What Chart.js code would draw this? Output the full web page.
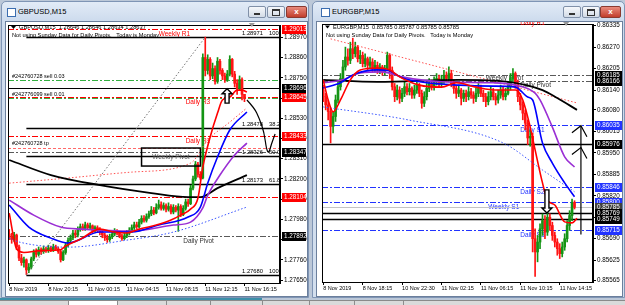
<!DOCTYPE html>
<html>
<head>
<meta charset="utf-8">
<script src="https://cdn.jsdelivr.net/npm/chart.js@4.4.1/dist/chart.umd.min.js"></script>
<style>
body{margin:0;width:625px;height:305px;overflow:hidden;background:#bcc8d8;position:relative;font-family:"Liberation Sans",Arial,sans-serif}
.win{position:absolute;top:1px;height:297px;box-sizing:border-box;background:linear-gradient(#e2ebf7,#cddbed 19px,#d3dfee);border:1px solid #7f95b5;border-radius:5px 5px 0 0}
.ttl{position:absolute;top:5px;font-size:7.5px;color:#000}
.ico{position:absolute;top:6px;width:7px;height:7px;border:1px solid #3b6db0;background:#fff}
.btn{position:absolute;top:4px;height:10px;border:1px solid #8090a8;border-radius:2px;background:linear-gradient(#f6f8fb,#d3dbe6)}
.btn.x{background:linear-gradient(#e98b7d,#c23e2c);border-color:#8a3a30;color:#fff;font-size:8px;font-weight:bold;text-align:center;line-height:10px}
.mn{position:absolute;left:5px;top:6px;width:6px;height:2px;background:#333}
.mx{position:absolute;left:4px;top:2px;width:6px;height:4px;border:1px solid #333;border-top-width:2px}
.client{position:absolute;background:#fff;border:1px solid #6b7f9c}
canvas{display:block}
.tab{position:absolute;top:0;height:5px;border-left:1px solid #8c8c8c}
</style>
</head>
<body>
<div class="win" style="left:1px;width:308px">
  <div class="ico" style="left:5px"></div>
  <div class="ttl" style="left:16px">GBPUSD,M15</div>
  <div class="btn" style="left:246px;width:16px"><b class="mn"></b></div>
  <div class="btn" style="left:265px;width:16px"><b class="mx"></b></div>
  <div class="btn x" style="left:284px;width:19px">x</div>
  <div class="client" style="left:3px;top:19px;width:301px;height:274px"><canvas id="gbp" width="301" height="274"></canvas></div>
</div>
<div class="win" style="left:312px;width:313px">
  <div class="ico" style="left:8px"></div>
  <div class="ttl" style="left:19px">EURGBP,M15</div>
  <div class="btn" style="left:250px;width:16px"><b class="mn"></b></div>
  <div class="btn" style="left:269px;width:16px"><b class="mx"></b></div>
  <div class="btn x" style="left:287px;width:19px">x</div>
  <div class="client" style="left:3px;top:19px;width:305px;height:274px"><canvas id="eur" width="305" height="274"></canvas></div>
</div>
<div style="position:absolute;left:0;top:298px;width:262px;height:2px;background:#3c8fa9"></div>
<div style="position:absolute;left:0;top:300px;width:625px;height:5px;background:#dadada;border-top:1px solid #8a8a8a">
  <div class="tab" style="left:68px;width:49px;background:#fff"></div>
  <div class="tab" style="left:117px;width:49px"></div>
  <div class="tab" style="left:166px;width:44px"></div>
  <div class="tab" style="left:210px;width:52px"></div>
  <div class="tab" style="left:262px;width:47px"></div>
  <div class="tab" style="left:309px;width:45px"></div>
  <div class="tab" style="left:354px;width:49px"></div>
  <div class="tab" style="left:403px;width:1px"></div>
</div>
<script>
// ---------- GBPUSD M15 ----------
const gbpTimeLabels = ['8 Nov 2019', '8 Nov 20:15', '11 Nov 00:15', '11 Nov 04:15', '11 Nov 08:15', '11 Nov 12:15', '11 Nov 16:15'];
const gbpPriceTicks = [1.27650, 1.27760, 1.27870, 1.27980, 1.28090, 1.28200, 1.28310, 1.28420, 1.28530, 1.28640, 1.28750, 1.28860, 1.28970];
const gbpFirstOpen = 1.27900;
const gbpClose = [
  1.27885, 1.27870, 1.27895, 1.27830, 1.27770, 1.27745, 1.27760, 1.27705, 1.27720, 1.27765,
  1.27800, 1.27790, 1.27815, 1.27805, 1.27820, 1.27810, 1.27825, 1.27815, 1.27830, 1.27820,
  1.27805, 1.27760, 1.27800, 1.27840, 1.27865, 1.27880, 1.27905, 1.27895, 1.27925, 1.27940,
  1.27930, 1.27950, 1.27935, 1.27945, 1.27920, 1.27935, 1.27925, 1.27910, 1.27895, 1.27880,
  1.27870, 1.27885, 1.27900, 1.27915, 1.27905, 1.27890, 1.27875, 1.27890, 1.27905, 1.27920,
  1.27935, 1.27950, 1.27940, 1.27965, 1.27985, 1.27975, 1.27995, 1.28010, 1.28030, 1.28015,
  1.28045, 1.28060, 1.28040, 1.28055, 1.28035, 1.28050, 1.28020, 1.28045, 1.28030, 1.28050,
  1.28005, 1.28040, 1.28075, 1.28065, 1.28150, 1.28200, 1.28280, 1.28225, 1.28205, 1.28860,
  1.28790, 1.28850, 1.28760, 1.28800, 1.28730, 1.28840, 1.28790, 1.28760, 1.28740, 1.28770,
  1.28850, 1.28770, 1.28720, 1.28690, 1.28740, 1.28660, 1.28637];
const gbpHigh = [
  1.27925, 1.27905, 1.27910, 1.27900, 1.27840, 1.27790, 1.27775, 1.27765, 1.27740, 1.27775,
  1.27815, 1.27820, 1.27830, 1.27825, 1.27835, 1.27830, 1.27840, 1.27835, 1.27845, 1.27840,
  1.27830, 1.27815, 1.27810, 1.27850, 1.27880, 1.27895, 1.27920, 1.27920, 1.27940, 1.27955,
  1.27955, 1.27965, 1.27960, 1.27960, 1.27950, 1.27945, 1.27945, 1.27935, 1.27920, 1.27905,
  1.27895, 1.27900, 1.27915, 1.27930, 1.27925, 1.27915, 1.27900, 1.27905, 1.27920, 1.27935,
  1.27950, 1.27965, 1.27965, 1.27980, 1.28000, 1.28000, 1.28010, 1.28025, 1.28050, 1.28045,
  1.28065, 1.28085, 1.28075, 1.28070, 1.28065, 1.28070, 1.28060, 1.28060, 1.28055, 1.28065,
  1.28060, 1.28055, 1.28090, 1.28090, 1.28165, 1.28215, 1.28295, 1.28290, 1.28240, 1.28880,
  1.28971, 1.28875, 1.28860, 1.28830, 1.28815, 1.28860, 1.28850, 1.28800, 1.28775, 1.28790,
  1.28870, 1.28855, 1.28785, 1.28740, 1.28760, 1.28750, 1.28660];
const gbpLow = [
  1.27870, 1.27850, 1.27860, 1.27815, 1.27755, 1.27730, 1.27720, 1.27680, 1.27690, 1.27710,
  1.27755, 1.27775, 1.27780, 1.27790, 1.27795, 1.27800, 1.27800, 1.27805, 1.27805, 1.27810,
  1.27795, 1.27748, 1.27755, 1.27790, 1.27830, 1.27855, 1.27870, 1.27880, 1.27885, 1.27915,
  1.27920, 1.27920, 1.27925, 1.27925, 1.27905, 1.27910, 1.27910, 1.27895, 1.27880, 1.27865,
  1.27855, 1.27860, 1.27875, 1.27890, 1.27895, 1.27880, 1.27865, 1.27870, 1.27880, 1.27895,
  1.27910, 1.27925, 1.27930, 1.27935, 1.27955, 1.27965, 1.27965, 1.27985, 1.28000, 1.28005,
  1.28010, 1.28035, 1.28030, 1.28030, 1.28020, 1.28025, 1.28010, 1.28010, 1.28020, 1.27915,
  1.27995, 1.28000, 1.28030, 1.28050, 1.28060, 1.28140, 1.28190, 1.28210, 1.28195, 1.28200,
  1.28760, 1.28770, 1.28740, 1.28745, 1.28715, 1.28720, 1.28770, 1.28740, 1.28725, 1.28730,
  1.28760, 1.28755, 1.28700, 1.28660, 1.28680, 1.28630, 1.28620];
// moving averages as [bar, price]
const gbpMaFast = [[0, 1.28014], [3, 1.27820], [6, 1.27800], [13, 1.27810], [21, 1.27815], [23, 1.27835], [29, 1.27872], [37, 1.27927], [43, 1.27911], [48, 1.27906], [53, 1.27927], [60, 1.27949], [66, 1.27976], [70, 1.28003], [74, 1.28036], [77, 1.28095], [79, 1.28264], [82, 1.28428], [85, 1.28558], [87, 1.28629], [90, 1.28645], [93, 1.28683], [95, 1.28683], [97, 1.28672]];
const gbpMaMid = [[0, 1.28058], [8, 1.27938], [17, 1.27878], [24, 1.27851], [37, 1.27911], [50, 1.27911], [61, 1.27949], [73, 1.27993], [78, 1.28047], [81, 1.28177], [85, 1.28319], [90, 1.28466], [97, 1.28564]];
const gbpMaSlow = [[0, 1.28085], [10, 1.28003], [21, 1.27938], [30, 1.27927], [50, 1.27916], [67, 1.27949], [74, 1.27965], [79, 1.28042], [81, 1.28110], [86, 1.28221], [92, 1.28330], [97, 1.28395]];
const gbpMaLong = [[0, 1.28303], [17, 1.28221], [37, 1.28166], [58, 1.28123], [73, 1.28101], [78, 1.28101], [85, 1.28150], [97, 1.28221]];
const gbpBandHigh = [[0, 1.28177], [24, 1.28205], [50, 1.28237], [74, 1.28286], [81, 1.28411], [90, 1.28509], [97, 1.28586]];
const gbpBandLow = [[0, 1.27878], [4, 1.27857], [24, 1.27829], [48, 1.27867], [67, 1.27911], [97, 1.28047]];
const gbpFibTrend = [[7, 1.27680], [80, 1.28971]];
const gbpLevels = [1.29013, 1.28738, 1.28696, 1.28645, 1.28640, 1.28433, 1.28368, 1.28347, 1.28104, 1.27892];
const gbpLevelNames = ['Weekly R1', '#242760728 sell 0.03', '', 'Daily R3', '#242776099 sell 0.01', 'Daily R1', '#242760728 tp', '', '', 'Daily Pivot'];
const gbpAxisMarks = [1.29013, 1.28696, 1.28645, 1.28433, 1.28347, 1.28104, 1.27892];
const gbpFibLevels = [1.28971, 1.28478, 1.28326, 1.28173, 1.27680];
const gbpFibNames = ['100.0', '38.2', '50.0', '61.8', '100.0'];
const gbpHeader = 'GBPUSD,M15  1.28646 1.28646 1.28634 1.28637';

// ---------- EURGBP M15 ----------
const eurTimeLabels = ['8 Nov 2019', '8 Nov 18:15', '10 Nov 22:30', '11 Nov 02:15', '11 Nov 06:15', '11 Nov 10:15', '11 Nov 14:15'];
const eurPriceTicks = [0.85565, 0.85625, 0.85690, 0.85755, 0.85820, 0.85885, 0.85950, 0.86015, 0.86080, 0.86140, 0.86205, 0.86270, 0.86335];
const eurFirstOpen = 0.86140;
const eurClose = [
  0.86120, 0.86095, 0.86075, 0.86030, 0.86060, 0.86110, 0.86150, 0.86175, 0.86210, 0.86240,
  0.86230, 0.86265, 0.86250, 0.86270, 0.86235, 0.86245, 0.86220, 0.86235, 0.86215, 0.86225,
  0.86205, 0.86215, 0.86200, 0.86210, 0.86195, 0.86205, 0.86245, 0.86200, 0.86150, 0.86120,
  0.86140, 0.86115, 0.86130, 0.86150, 0.86135, 0.86145, 0.86125, 0.86140, 0.86155, 0.86130,
  0.86100, 0.86120, 0.86145, 0.86160, 0.86150, 0.86165, 0.86175, 0.86160, 0.86170, 0.86185,
  0.86175, 0.86190, 0.86160, 0.86145, 0.86130, 0.86140, 0.86115, 0.86130, 0.86120, 0.86135,
  0.86125, 0.86115, 0.86130, 0.86145, 0.86130, 0.86120, 0.86105, 0.86120, 0.86135, 0.86120,
  0.86110, 0.86125, 0.86140, 0.86120, 0.86130, 0.86150, 0.86175, 0.86190, 0.86160, 0.86120,
  0.86095, 0.86070, 0.86040, 0.85995, 0.86000, 0.85690, 0.85650, 0.85680, 0.85720, 0.85745,
  0.85710, 0.85755, 0.85730, 0.85700, 0.85680, 0.85660, 0.85645, 0.85665, 0.85690, 0.85730,
  0.85760, 0.85800, 0.85785];
const eurHigh = [
  0.86155, 0.86130, 0.86110, 0.86085, 0.86075, 0.86125, 0.86165, 0.86190, 0.86230, 0.86270,
  0.86265, 0.86285, 0.86297, 0.86285, 0.86275, 0.86260, 0.86255, 0.86250, 0.86240, 0.86240,
  0.86235, 0.86230, 0.86225, 0.86220, 0.86215, 0.86215, 0.86255, 0.86250, 0.86210, 0.86160,
  0.86155, 0.86150, 0.86145, 0.86165, 0.86160, 0.86160, 0.86150, 0.86155, 0.86170, 0.86160,
  0.86140, 0.86135, 0.86160, 0.86175, 0.86170, 0.86180, 0.86190, 0.86185, 0.86185, 0.86200,
  0.86195, 0.86210, 0.86200, 0.86170, 0.86155, 0.86155, 0.86145, 0.86140, 0.86140, 0.86150,
  0.86145, 0.86135, 0.86145, 0.86160, 0.86155, 0.86140, 0.86130, 0.86135, 0.86150, 0.86145,
  0.86130, 0.86140, 0.86155, 0.86150, 0.86145, 0.86165, 0.86190, 0.86205, 0.86195, 0.86170,
  0.86130, 0.86105, 0.86080, 0.86050, 0.86020, 0.86010, 0.85720, 0.85700, 0.85735, 0.85765,
  0.85760, 0.85770, 0.85765, 0.85740, 0.85710, 0.85690, 0.85675, 0.85680, 0.85705, 0.85745,
  0.85775, 0.85810, 0.85805];
const eurLow = [
  0.86105, 0.86080, 0.86050, 0.85980, 0.86010, 0.86045, 0.86100, 0.86140, 0.86165, 0.86200,
  0.86215, 0.86220, 0.86235, 0.86240, 0.86225, 0.86220, 0.86210, 0.86210, 0.86200, 0.86205,
  0.86195, 0.86195, 0.86190, 0.86190, 0.86185, 0.86185, 0.86200, 0.86175, 0.86140, 0.86105,
  0.86110, 0.86100, 0.86105, 0.86120, 0.86125, 0.86125, 0.86115, 0.86115, 0.86130, 0.86120,
  0.86085, 0.86090, 0.86110, 0.86135, 0.86140, 0.86140, 0.86155, 0.86150, 0.86150, 0.86160,
  0.86165, 0.86165, 0.86150, 0.86130, 0.86115, 0.86120, 0.86095, 0.86105, 0.86105, 0.86110,
  0.86115, 0.86100, 0.86105, 0.86120, 0.86120, 0.86105, 0.86090, 0.86095, 0.86110, 0.86110,
  0.86095, 0.86100, 0.86115, 0.86110, 0.86110, 0.86125, 0.86140, 0.86165, 0.86145, 0.86105,
  0.86080, 0.86050, 0.86020, 0.85975, 0.85970, 0.85650, 0.85576, 0.85620, 0.85660, 0.85700,
  0.85690, 0.85700, 0.85715, 0.85685, 0.85665, 0.85640, 0.85630, 0.85635, 0.85655, 0.85680,
  0.85715, 0.85745, 0.85780];
const eurMaFast = [[0, 0.86171], [2, 0.86110], [4, 0.86074], [7, 0.86110], [11, 0.86171], [15, 0.86201], [22, 0.86207], [27, 0.86201], [31, 0.86180], [39, 0.86155], [48, 0.86149], [54, 0.86162], [62, 0.86149], [70, 0.86140], [78, 0.86140], [81, 0.86110], [84, 0.86028], [86, 0.85959], [89, 0.85859], [91, 0.85807], [94, 0.85792], [98, 0.85741], [101, 0.85738], [103, 0.85752]];
const eurMaMid = [[0, 0.86146], [7, 0.86162], [12, 0.86186], [22, 0.86201], [27, 0.86198], [32, 0.86177], [42, 0.86162], [55, 0.86155], [69, 0.86152], [78, 0.86149], [83, 0.86119], [85, 0.86110], [89, 0.85980], [93, 0.85919], [98, 0.85859], [102, 0.85817]];
const eurMaSlow = [[0, 0.86162], [8, 0.86171], [15, 0.86192], [24, 0.86195], [32, 0.86180], [48, 0.86165], [69, 0.86162], [78, 0.86155], [86, 0.86131], [88, 0.86110], [93, 0.86028], [98, 0.85938], [102, 0.85907]];
const eurMaLong = [[0, 0.86171], [22, 0.86165], [55, 0.86171], [75, 0.86165], [89, 0.86140], [95, 0.86116], [103, 0.86080]];
const eurTrendHigh = [[3, 0.86295], [103, 0.86101]];
const eurBandLow = [[0, 0.86089], [35, 0.86049], [73, 0.85980], [89, 0.85898], [102, 0.85832]];
const eurLevels = [0.86185, 0.86166, 0.86035, 0.85976, 0.85846, 0.85800, 0.85785, 0.85769, 0.85749, 0.85715];
const eurLevelNames = ['Weekly Pivot', 'Daily Pivot', 'Daily S1', '', 'Daily S2', 'Weekly S1', '', '', '', 'Daily S3'];
const eurAxisMarks = [0.86185, 0.86166, 0.86035, 0.85976, 0.85846, 0.85800, 0.85785, 0.85769, 0.85749, 0.85715];
const eurHeader = 'EURGBP,M15  0.85785 0.85787 0.85785 0.85785';
const notice = 'Not using Sunday Data for Daily Pivots.   Today is Monday';

// ---------- styles ----------
const FONT = '"Liberation Sans", Arial, sans-serif';
const UP = '#149414', DN = '#ff1414';
const RED = '#ff0000', GRN = '#33b040', BLK = '#000000', GRY = '#5a5a5a', BLU = '#2233ff';
const DD = [6, 2, 2, 2];
const gbpLevelStyle = [
  {c: RED, d: DD, tx: RED, at: 61, dy: 5},
  {c: GRN, d: DD, tx: BLK, dy: -4},
  {c: BLK, d: [], w: 1.2},
  {c: RED, d: DD, tx: RED, at: 72, dy: 5},
  {c: GRN, d: DD, tx: BLK, dy: -4},
  {c: RED, d: DD, tx: RED, at: 72, dy: 5},
  {c: '#ff6a6a', d: [3, 2], tx: BLK, dy: -5},
  {c: GRY, d: DD},
  {c: RED, d: DD},
  {c: GRY, d: DD, tx: '#333', at: 71, dy: 5}
];
const gbpAxisColors = [RED, BLK, RED, RED, BLK, RED, BLK];
const eurLevelStyle = [
  {c: GRY, d: DD, tx: '#333', at: 66, dy: 3},
  {c: GRY, d: DD, tx: '#333', at: 80, dy: 4},
  {c: BLU, d: DD, tx: BLU, at: 80, dy: 5},
  {c: BLK, d: [], w: 1.3},
  {c: BLU, d: DD, tx: BLU, at: 80, dy: 5},
  {c: BLU, d: DD, tx: BLU, at: 67, dy: 5},
  {c: '#c4c4c4', d: []},
  {c: BLK, d: [], w: 1.3},
  {c: BLK, d: [], w: 1.3},
  {c: BLU, d: DD, tx: BLU, at: 80, dy: 5}
];
const eurAxisColors = [BLK, BLK, BLU, BLK, BLU, BLU, '#404040', BLK, BLK, BLU];

function txt(ctx, s, px, py, color, align, size) {
  ctx.font = (size || 6) + 'px ' + FONT;
  ctx.fillStyle = color;
  ctx.textAlign = align || 'left';
  ctx.textBaseline = 'middle';
  ctx.fillText(s, px, py);
}

function hollowArrow(ctx, cx, tipY, baseY) {
  const s = baseY > tipY ? 5 : -5;
  ctx.beginPath();
  ctx.moveTo(cx, tipY);
  ctx.lineTo(cx + 5, tipY + s);
  ctx.lineTo(cx + 2, tipY + s);
  ctx.lineTo(cx + 2, baseY);
  ctx.lineTo(cx - 2, baseY);
  ctx.lineTo(cx - 2, tipY + s);
  ctx.lineTo(cx - 5, tipY + s);
  ctx.closePath();
  ctx.fillStyle = '#fff';
  ctx.fill();
  ctx.strokeStyle = '#000';
  ctx.lineWidth = 1.4;
  ctx.stroke();
}

function sketch(ctx, pts) {
  ctx.beginPath();
  ctx.moveTo(pts[0][0], pts[0][1]);
  for (let i = 1; i < pts.length - 1; i++) {
    ctx.quadraticCurveTo(pts[i][0], pts[i][1], (pts[i][0] + pts[i + 1][0]) / 2, (pts[i][1] + pts[i + 1][1]) / 2);
  }
  ctx.lineTo(pts[pts.length - 1][0], pts[pts.length - 1][1]);
  ctx.strokeStyle = '#000';
  ctx.lineWidth = 1.2;
  ctx.stroke();
}

function caret(ctx, cx, cy) {
  ctx.beginPath();
  ctx.moveTo(cx - 9, cy + 7);
  ctx.lineTo(cx, cy);
  ctx.lineTo(cx + 6, cy + 11);
  ctx.stroke();
}

function gbpAnnotate(ctx, x, y) {
  // "Weekly Pivot" text box
  const bx0 = x.getPixelForValue(54), bx1 = x.getPixelForValue(78);
  const by0 = y.getPixelForValue(1.28368), by1 = y.getPixelForValue(1.28270);
  ctx.strokeStyle = '#000';
  ctx.lineWidth = 1.5;
  ctx.strokeRect(bx0, by0, bx1 - bx0, by1 - by0);
  txt(ctx, 'Weekly Pivot', (bx0 + bx1) / 2, (by0 + by1) / 2, '#555', 'center', 6.5);
  hollowArrow(ctx, x.getPixelForValue(88.9), y.getPixelForValue(1.28690), y.getPixelForValue(1.28612));
  const path = [[97, 1.28629], [100, 1.28586], [102, 1.28531], [104, 1.28455], [105, 1.28357], [106, 1.28341], [107, 1.28390], [108.5, 1.28444]];
  sketch(ctx, path.map(p => [x.getPixelForValue(p[0]), y.getPixelForValue(p[1])]));
}

function eurAnnotate(ctx, x, y) {
  hollowArrow(ctx, x.getPixelForValue(90.8), y.getPixelForValue(0.85768), y.getPixelForValue(0.85838));
  const vx = x.getPixelForValue(104.6);
  ctx.strokeStyle = '#000';
  ctx.lineWidth = 1.2;
  ctx.beginPath();
  ctx.moveTo(vx, y.getPixelForValue(0.85703));
  ctx.lineTo(vx, y.getPixelForValue(0.86032));
  ctx.stroke();
  caret(ctx, vx, y.getPixelForValue(0.86032));
  caret(ctx, vx, y.getPixelForValue(0.85966));
}

const extras = {
  gbp: {
    levels: gbpLevels, names: gbpLevelNames, styles: gbpLevelStyle,
    marks: gbpAxisMarks, markColors: gbpAxisColors, markW: 24,
    fib: gbpFibLevels, fibNames: gbpFibNames, fibStart: 7,
    header: [gbpHeader, notice], headY: [2.5, 10.5], shiftIdx: 99,
    annotate: gbpAnnotate
  },
  eur: {
    levels: eurLevels, names: eurLevelNames, styles: eurLevelStyle,
    marks: eurAxisMarks, markColors: eurAxisColors, markW: 28,
    fib: [], fibNames: [], fibStart: 0,
    header: [eurHeader, notice], headY: [3, 11], shiftIdx: 98.6,
    topLabel: ['Daily R1', 80],
    annotate: eurAnnotate
  }
};

const mtOverlay = {
  id: 'mtOverlay',
  beforeDatasetsDraw(chart) {
    const e = extras[chart.canvas.id];
    const {ctx, chartArea: a} = chart;
    const x = chart.scales.x, y = chart.scales.y;
    ctx.save();
    ctx.beginPath();
    ctx.rect(a.left, a.top, a.right - a.left, a.bottom - a.top);
    ctx.clip();
    e.levels.forEach((v, i) => {
      const s = e.styles[i];
      const py = Math.round(y.getPixelForValue(v)) + 0.5;
      ctx.strokeStyle = s.c;
      ctx.lineWidth = s.w || 1;
      ctx.setLineDash(s.d);
      ctx.beginPath();
      ctx.moveTo(a.left, py);
      ctx.lineTo(a.right, py);
      ctx.stroke();
      if (e.names[i]) {
        const lx = s.at === undefined ? a.left + 4 : x.getPixelForValue(s.at);
        txt(ctx, e.names[i], lx, py + s.dy, s.tx, 'left', s.at === undefined ? 5.5 : 6.5);
      }
    });
    ctx.setLineDash([]);
    e.fib.forEach((v, i) => {
      const py = Math.round(y.getPixelForValue(v)) + 0.5;
      ctx.strokeStyle = '#000';
      ctx.lineWidth = 1.3;
      ctx.beginPath();
      ctx.moveTo(x.getPixelForValue(e.fibStart), py);
      ctx.lineTo(a.right, py);
      ctx.stroke();
      txt(ctx, v.toFixed(5), a.right - 17, py - 4, '#000', 'right', 5.8);
      txt(ctx, e.fibNames[i], a.right - 11, py - 4, '#000', 'left', 5.8);
    });
    ctx.restore();
  },
  afterDatasetsDraw(chart) {
    const e = extras[chart.canvas.id];
    const {ctx, chartArea: a} = chart;
    ctx.save();
    ctx.beginPath();
    ctx.rect(a.left, a.top, a.right - a.left, a.bottom - a.top);
    ctx.clip();
    e.annotate(ctx, chart.scales.x, chart.scales.y);
    ctx.restore();
  },
  afterDraw(chart) {
    const e = extras[chart.canvas.id];
    const {ctx, chartArea: a} = chart;
    const x = chart.scales.x, y = chart.scales.y;
    ctx.save();
    ctx.strokeStyle = '#000';
    ctx.lineWidth = 1;
    ctx.strokeRect(a.left + 0.5, a.top + 0.5, a.right - a.left - 1, a.bottom - a.top);
    e.marks.forEach((v, i) => {
      const py = Math.round(y.getPixelForValue(v));
      ctx.fillStyle = e.markColors[i];
      ctx.fillRect(a.right + 2, py - 4, e.markW, 9);
      txt(ctx, v.toFixed(5), a.right + 4, py + 0.5, '#fff', 'left', 6.3);
    });
    ctx.fillStyle = '#000';
    ctx.beginPath();
    ctx.moveTo(a.left + 3, a.top + e.headY[0] - 1.5);
    ctx.lineTo(a.left + 8, a.top + e.headY[0] - 1.5);
    ctx.lineTo(a.left + 5.5, a.top + e.headY[0] + 1.5);
    ctx.fill();
    txt(ctx, e.header[0], a.left + 11, a.top + e.headY[0], '#000', 'left', 5.7);
    txt(ctx, e.header[1], a.left + 4, a.top + e.headY[1], '#000', 'left', 5.7);
    const sx = x.getPixelForValue(e.shiftIdx);
    ctx.fillStyle = '#999';
    ctx.beginPath();
    ctx.moveTo(sx - 3, a.top - 2);
    ctx.lineTo(sx + 3, a.top - 2);
    ctx.lineTo(sx, a.top + 2);
    ctx.fill();
    if (e.topLabel) txt(ctx, e.topLabel[0], x.getPixelForValue(e.topLabel[1]), a.top - 1, RED, 'left', 6.5);
    ctx.restore();
  }
};

function lineSet(n, pts, color, width, dash, tension) {
  const data = new Array(n).fill(null);
  pts.forEach(p => { data[p[0]] = p[1]; });
  return {
    type: 'line', data, borderColor: color, borderWidth: width, borderDash: dash || [],
    pointRadius: 0, spanGaps: true, cubicInterpolationMode: tension ? 'monotone' : 'default',
    tension: 0, order: 1
  };
}

function candleSets(open0, close, high, low) {
  const open = close.map((c, i) => i === 0 ? open0 : close[i - 1]);
  const col = close.map((c, i) => c >= open[i] ? UP : DN);
  return [
    {type: 'bar', data: high.map((h, i) => [low[i], h]), backgroundColor: col, barThickness: 1, grouped: false, order: 3},
    {type: 'bar', data: close.map((c, i) => [open[i], c]), backgroundColor: col, barThickness: 2, grouped: false, order: 2}
  ];
}

function makeChart(id, n, timeLabels, ticks, ymin, ymax, yW, padL, padT, xH, datasets) {
  const labels = Array.from({length: n}, (_, i) => i % 16 === 0 ? timeLabels[i / 16] : String(i));
  return new Chart(document.getElementById(id), {
    type: 'bar',
    data: {labels, datasets},
    plugins: [mtOverlay],
    options: {
      responsive: false, animation: false, devicePixelRatio: 1,
      layout: {padding: {left: padL, top: padT, right: 0, bottom: 0}},
      plugins: {legend: {display: false}, tooltip: {enabled: false}},
      scales: {
        x: {
          type: 'category', offset: true,
          grid: {drawOnChartArea: false, drawTicks: true, tickLength: 3, color: '#000', offset: false},
          border: {display: true, color: '#000'},
          ticks: {
            autoSkip: false, maxRotation: 0, minRotation: 0, align: 'start', padding: 0,
            color: '#000', font: {family: FONT, size: 5.5},
            callback: v => labels[v]
          },
          afterBuildTicks: s => { s.ticks = s.ticks.filter(t => t.value % 16 === 0); },
          afterFit: s => { s.height = xH; s.paddingLeft = 0; s.paddingRight = 0; }
        },
        y: {
          position: 'right', min: ymin, max: ymax,
          grid: {drawOnChartArea: false, drawTicks: true, tickLength: 3, color: '#000'},
          border: {display: true, color: '#000'},
          ticks: {autoSkip: false, padding: 1, color: '#000', font: {family: FONT, size: 6.3}, callback: v => v.toFixed(5)},
          afterBuildTicks: s => { s.ticks = ticks.map(v => ({value: v})); },
          afterFit: s => { s.width = yW; s.paddingTop = 0; s.paddingBottom = 0; }
        }
      }
    }
  });
}

const GN = 111, EN = 110;
makeChart('gbp', GN, gbpTimeLabels, gbpPriceTicks, 1.27634, 1.29037, 27, 2, 3, 13, [
  lineSet(GN, gbpMaFast, '#ff0000', 1.6, null, true),
  lineSet(GN, gbpMaMid, '#0000ff', 1.6, null, true),
  lineSet(GN, gbpMaSlow, '#9a2fd4', 1.6, null, true),
  lineSet(GN, gbpMaLong, '#000000', 1.8, null, true),
  lineSet(GN, gbpBandHigh, '#ff5050', 1, [1.5, 2], true),
  lineSet(GN, gbpBandLow, '#3a55ff', 1, [1.5, 2], true),
  lineSet(GN, gbpFibTrend, '#707070', 1, [1.5, 2], false),
  ...candleSets(gbpFirstOpen, gbpClose, gbpHigh, gbpLow)
]);
makeChart('eur', EN, eurTimeLabels, eurPriceTicks, 0.85559, 0.86340, 29, 5, 2, 14, [
  lineSet(EN, eurMaFast, '#ff0000', 1.6, null, true),
  lineSet(EN, eurMaMid, '#0000ff', 1.6, null, true),
  lineSet(EN, eurMaSlow, '#9a2fd4', 1.6, null, true),
  lineSet(EN, eurMaLong, '#000000', 1.8, null, true),
  lineSet(EN, eurTrendHigh, '#ff5050', 1, [1.5, 2], false),
  lineSet(EN, eurBandLow, '#3a55ff', 1, [1.5, 2], true),
  ...candleSets(eurFirstOpen, eurClose, eurHigh, eurLow)
]);
</script>
</body>
</html>
